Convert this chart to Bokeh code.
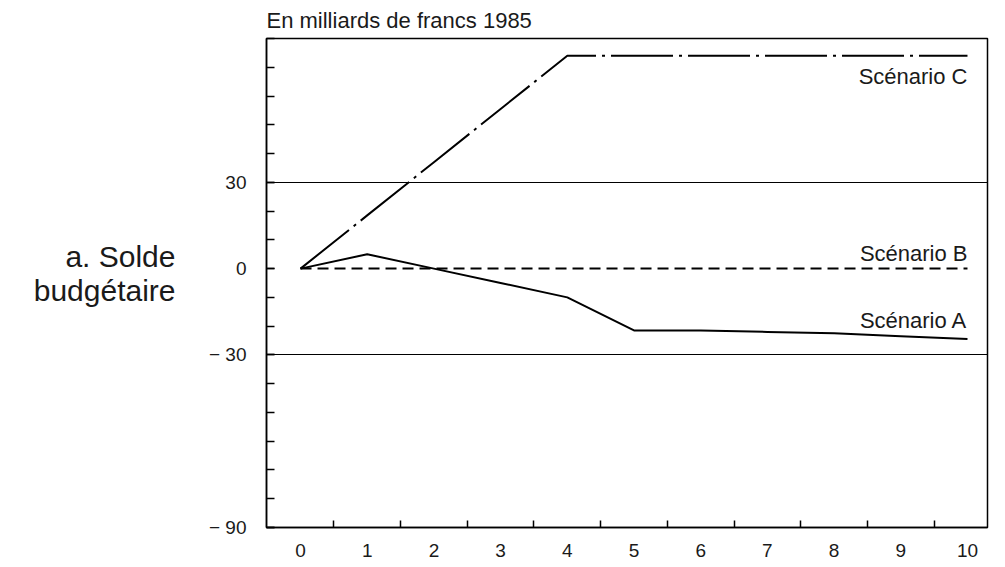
from bokeh.plotting import figure
from bokeh.models import FixedTicker, Range1d, Label, LinearAxis
from bokeh.embed import file_html
from bokeh.resources import INLINE

# ---- data ----
years = [0, 1, 2, 3, 4, 5, 6, 7, 8, 9, 10]
x_tick_labels = ["0", "1", "2", "3", "4", "5", "6", "7", "8", "9", "10"]
scenario_a = [0, 5, 0, -5, -10, -21.5, -21.5, -22, -22.5, -23.5, -24.5]
scenario_b = [0, 0, 0, 0, 0, 0, 0, 0, 0, 0, 0]
scenario_c = [0, 18.5, 37, 55.5, 74, 74, 74, 74, 74, 74, 74]
y_ticks = [-90, -30, 0, 30]
y_tick_labels = ["− 90", "− 30", "0", "30"]
grid_values = [-30, 30]
series_names = ["Scénario A", "Scénario B", "Scénario C"]
title_text = "En milliards de francs 1985"
panel_text = "a. Solde\nbudgétaire"

FONT = "Liberation Sans"
INK = "#1a1a1a"

p = figure(width=997, height=565,
           x_range=Range1d(-0.51, 10.3), y_range=Range1d(-90, 80),
           output_backend="svg", toolbar_location=None,
           min_border_left=266, min_border_right=10,
           min_border_top=38, min_border_bottom=38)
p.background_fill_color = "white"
p.border_fill_color = "white"
p.outline_line_color = "black"
p.outline_line_width = 1.5
p.outline_line_alpha = 1.0

# title above the frame, left aligned with it
p.title.text = title_text
p.title.align = "left"
p.title.text_font = FONT
p.title.text_font_size = "22px"
p.title.text_font_style = "normal"
p.title.text_color = INK
p.title.standoff = 11

# x axis
p.xaxis.ticker = FixedTicker(ticks=years, minor_ticks=[k + 0.5 for k in range(10)])
p.xaxis.major_label_overrides = dict(zip(years, x_tick_labels))
p.xaxis.major_tick_in = 0
p.xaxis.major_tick_out = 0
p.xaxis.minor_tick_in = 7
p.xaxis.minor_tick_out = 0
p.xaxis.minor_tick_line_color = "black"
p.xaxis.minor_tick_line_width = 1.5
p.xaxis.axis_line_color = "black"
p.xaxis.axis_line_width = 1.5
p.xaxis.major_label_standoff = 16
p.xaxis.major_label_text_font = FONT
p.xaxis.major_label_text_font_size = "19px"
p.xaxis.major_label_text_color = INK

# y axis
p.yaxis.ticker = FixedTicker(ticks=y_ticks, minor_ticks=list(range(-90, 81, 10)))
p.yaxis.major_label_overrides = dict(zip(y_ticks, y_tick_labels))
p.yaxis.major_tick_in = 8
p.yaxis.major_tick_out = 0
p.yaxis.major_tick_line_color = "black"
p.yaxis.major_tick_line_width = 1.5
p.yaxis.minor_tick_in = 8
p.yaxis.minor_tick_out = 0
p.yaxis.minor_tick_line_color = "black"
p.yaxis.minor_tick_line_width = 1.5
p.yaxis.axis_line_color = "black"
p.yaxis.axis_line_width = 1.5
p.yaxis.major_label_standoff = 20
p.yaxis.major_label_text_font = FONT
p.yaxis.major_label_text_font_size = "19px"
p.yaxis.major_label_text_color = INK

# panel label "a. Solde / budgétaire" drawn as a bare outer left axis
panel_y = -1.6
panel_axis = LinearAxis(ticker=FixedTicker(ticks=[panel_y], minor_ticks=[]),
                        major_label_overrides={panel_y: panel_text},
                        axis_line_color=None, major_tick_line_color=None,
                        minor_tick_line_color=None,
                        major_label_standoff=24,
                        major_label_text_font=FONT,
                        major_label_text_font_size="30px",
                        major_label_text_color=INK,
                        major_label_text_line_height=1.04)
p.add_layout(panel_axis, "left")

# grid: only the -30 and 30 reference lines
p.xgrid.visible = False
p.ygrid.ticker = FixedTicker(ticks=grid_values)
p.ygrid.grid_line_color = "black"
p.ygrid.grid_line_alpha = 1.0
p.ygrid.grid_line_width = 1.2

# series
p.line(years, scenario_a, line_color="black", line_width=2)
p.line(years, scenario_b, line_color="black", line_width=2, line_dash="11 6")
p.line(years, scenario_c, line_color="black", line_width=2, line_dash="62 6 3 6")

# series labels
for name, yv in zip(series_names, [-18.1, 5.1, 66.7]):
    p.add_layout(Label(x=10, y=yv, text=name, text_align="right",
                       text_baseline="alphabetic", text_font=FONT,
                       text_font_size="22px", text_color=INK))

open("out.html", "w").write(file_html(p, INLINE))
